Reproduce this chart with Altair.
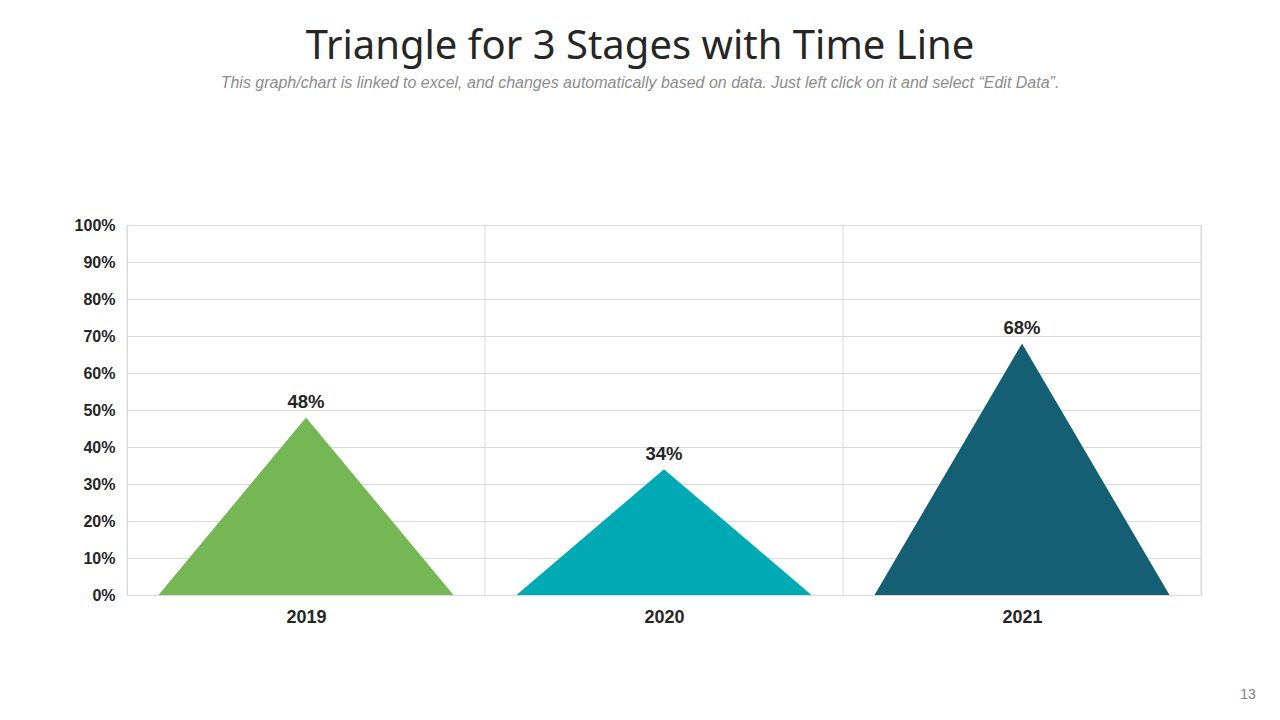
import altair as alt
import pandas as pd

years = ["2019", "2020", "2021"]
values = [48, 34, 68]
colors = ["#74B754", "#00AAB4", "#145F74"]
y_ticks = list(range(0, 101, 10))
page_number = ["13"]

half = 0.412
rows = []
for i, (yr, v) in enumerate(zip(years, values)):
    c = i + 0.5
    rows += [
        dict(year=yr, x=c - half, y=0, k=0),
        dict(year=yr, x=c, y=v, k=1),
        dict(year=yr, x=c + half, y=0, k=2),
    ]
tri = pd.DataFrame(rows)
lab = pd.DataFrame(dict(year=years, x=[i + 0.5 for i in range(len(years))], y=values,
                        text=[f"{v}%" for v in values]))
bounds = pd.DataFrame(dict(x=list(range(len(years) + 1))))

label_list = "[" + ",".join(f"'{y}'" for y in years) + "]"
xaxis = alt.Axis(values=[i + 0.5 for i in range(len(years))],
                 labelExpr=f"{label_list}[floor(datum.value)]",
                 grid=False, ticks=False, domain=False, title=None,
                 labelFont="Liberation Sans", labelFontSize=18, labelFontWeight="bold",
                 labelColor="#262626", labelPadding=13)
yaxis = alt.Axis(values=y_ticks, labelExpr="datum.value + '%'", grid=True,
                 gridColor="#d9d9d9", gridWidth=1, ticks=False, domain=False, title=None,
                 labelFont="Liberation Sans", labelFontSize=16, labelFontWeight="bold",
                 labelColor="#262626", labelPadding=12)
xscale = alt.Scale(domain=[0, len(years)], nice=False, zero=False)
yscale = alt.Scale(domain=[0, 100], nice=False)
x_enc = alt.X("x:Q", scale=xscale, axis=xaxis)
y_enc = alt.Y("y:Q", scale=yscale, axis=yaxis)

area = alt.Chart(tri).mark_area(opacity=1).encode(
    x=x_enc, y=y_enc,
    color=alt.Color("year:N", scale=alt.Scale(domain=years, range=colors), legend=None),
    order="k:Q",
)
rules = alt.Chart(bounds).mark_rule(color="#d9d9d9", strokeWidth=1).encode(x=x_enc)
text = alt.Chart(lab).mark_text(font="Liberation Sans", fontSize=18.5, fontWeight="bold",
                                 color="#262626", dy=-15).encode(x=x_enc, y=y_enc, text="text:N")
page = alt.Chart(pd.DataFrame(dict(t=page_number))).mark_text(
    font="Liberation Sans", fontSize=14, color="#7f7f7f").encode(
    text="t:N", x=alt.value(1121), y=alt.value(470))

chart = alt.layer(area, rules, text, page).properties(
    width=1074, height=370,
    autosize=alt.AutoSizeParams(type="none"),
    padding={"left": 119, "top": 217, "right": 71, "bottom": 117},
    title=alt.Title(
        text="Triangle for 3 Stages with Time Line",
        subtitle="This graph/chart is linked to excel, and changes automatically based on data. Just left click on it and select \u201cEdit Data\u201d.",
        anchor="middle", dx=-24, offset=126,
        font="Noto Sans", fontSize=40, fontWeight="normal", color="#262626",
        subtitleFont="Liberation Sans", subtitleFontSize=16, subtitleFontStyle="italic",
        subtitleColor="#8c8c8c", subtitlePadding=8,
    ),
).configure_view(stroke=None).configure(background="white")

chart.save("out.html", embed_options={"renderer": "svg", "actions": False})
